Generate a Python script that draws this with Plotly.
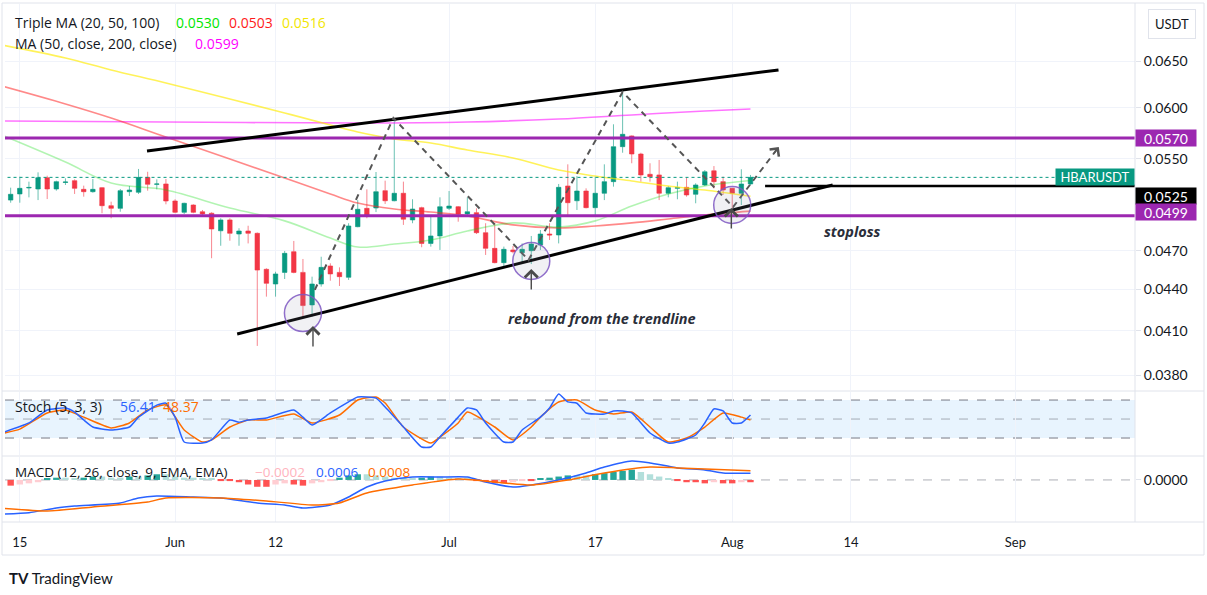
import math
import pandas as pd
import plotly.graph_objects as go

# ---------------- data ----------------
BASE = pd.Timestamp("2023-05-14")

opens = [0.05126, 0.0518, 0.05233, 0.05224, 0.05326, 0.05224, 0.05283, 0.05299, 0.05221, 0.052,
         0.05236, 0.05077, 0.05054, 0.052, 0.05195, 0.05329, 0.05266, 0.05269, 0.05118, 0.0502,
         0.05083, 0.05025, 0.05012, 0.04864, 0.04955, 0.04837, 0.04862, 0.04843, 0.04554, 0.04441,
         0.0453, 0.04693, 0.0453, 0.04285, 0.04441, 0.0458, 0.0453, 0.04492, 0.04898, 0.05054,
         0.05057, 0.05209, 0.0512, 0.05186, 0.04955, 0.0506, 0.0476, 0.04821, 0.05054, 0.05068,
         0.05006, 0.05017, 0.04848, 0.0472, 0.04606, 0.04707, 0.04685, 0.04701, 0.04747, 0.04837,
         0.04829, 0.05251, 0.0512, 0.05206, 0.0506, 0.05186, 0.0529, 0.05616, 0.0572, 0.05546,
         0.05357, 0.05351, 0.05186, 0.0523, 0.05239, 0.05177, 0.0526, 0.05389, 0.0529, 0.0523,
         0.05186, 0.05269]
highs = [0.05236, 0.05335, 0.0529, 0.05375, 0.05344, 0.05299, 0.0532, 0.05311, 0.05254, 0.05314,
         0.0524, 0.05112, 0.05224, 0.05251, 0.05406, 0.0538, 0.05311, 0.05314, 0.05133, 0.05103,
         0.05089, 0.0504, 0.0502, 0.04969, 0.04969, 0.04885, 0.04906, 0.0485, 0.04562, 0.04535,
         0.04699, 0.0478, 0.04635, 0.04497, 0.04653, 0.04601, 0.04569, 0.04927, 0.05126, 0.05221,
         0.05378, 0.05299, 0.05878, 0.0529, 0.05133, 0.05068, 0.04989, 0.0515, 0.05206, 0.05074,
         0.0515, 0.05054, 0.04927, 0.04927, 0.04734, 0.04739, 0.0476, 0.04821, 0.0487, 0.04927,
         0.05269, 0.05449, 0.05341, 0.0523, 0.05335, 0.05449, 0.05835, 0.06158, 0.05725, 0.05558,
         0.05459, 0.0549, 0.05251, 0.0529, 0.05326, 0.05275, 0.05396, 0.05433, 0.05335, 0.05233,
         0.05403, 0.05351]
lows = [0.05103, 0.05103, 0.0515, 0.05126, 0.05135, 0.05209, 0.0526, 0.0518, 0.05156, 0.05191,
        0.05012, 0.04969, 0.05025, 0.05162, 0.0518, 0.05209, 0.05221, 0.05089, 0.05012, 0.05006,
        0.05012, 0.04997, 0.04641, 0.04741, 0.04782, 0.04741, 0.0476, 0.03995, 0.04346, 0.04346,
        0.04479, 0.04523, 0.042, 0.042, 0.04421, 0.04466, 0.04426, 0.04472, 0.04893, 0.04969,
        0.05022, 0.05092, 0.05115, 0.04913, 0.04927, 0.04729, 0.04734, 0.04707, 0.0504, 0.0494,
        0.04983, 0.04837, 0.04667, 0.04601, 0.04574, 0.0468, 0.04595, 0.04595, 0.04707, 0.04788,
        0.0476, 0.04983, 0.0504, 0.05054, 0.04997, 0.05126, 0.05245, 0.05558, 0.05459, 0.0529,
        0.0529, 0.05126, 0.0515, 0.05133, 0.05156, 0.05098, 0.05251, 0.0523, 0.05171, 0.05054,
        0.05083, 0.0526]
closes = [0.05177, 0.0523, 0.05238, 0.05326, 0.05224, 0.0529, 0.05287, 0.0523, 0.052, 0.05221,
          0.05077, 0.05054, 0.05209, 0.05215, 0.05329, 0.05266, 0.05269, 0.05118, 0.0502, 0.05098,
          0.0502, 0.05006, 0.04879, 0.04955, 0.04843, 0.04862, 0.04843, 0.04548, 0.04446, 0.04518,
          0.0468, 0.0453, 0.0428, 0.04441, 0.04569, 0.04518, 0.04497, 0.04904, 0.05046, 0.04997,
          0.052, 0.0512, 0.05186, 0.04961, 0.05048, 0.0476, 0.04821, 0.05068, 0.05074, 0.05006,
          0.05025, 0.04848, 0.0472, 0.04606, 0.04712, 0.04693, 0.04712, 0.04755, 0.04837, 0.04829,
          0.05239, 0.05103, 0.05206, 0.0506, 0.05186, 0.0529, 0.05616, 0.05736, 0.05546, 0.05351,
          0.05335, 0.05186, 0.05236, 0.05236, 0.05171, 0.0526, 0.0538, 0.0529, 0.05215, 0.05186,
          0.05269, 0.05329]

# moving averages (day offsets from BASE)
ma_days = [-1, 6, 11, 17, 24, 30, 35, 38, 42, 46, 50, 55, 60, 64, 68, 72, 76, 81]
ma20 = [0.05729, 0.0547, 0.05278, 0.05215, 0.05057, 0.04947, 0.04804, 0.04731, 0.04755, 0.04788,
        0.04862, 0.0493, 0.04896, 0.04947, 0.05074, 0.0518, 0.05251, 0.0530]
ma50 = [0.0623, 0.06041, 0.05898, 0.0571, 0.05499, 0.05323, 0.0518, 0.051, 0.05048, 0.05022,
        0.04989, 0.04913, 0.04887, 0.04904, 0.0493, 0.04963, 0.04997, 0.0503]
ma100 = [0.06682, 0.06535, 0.06403, 0.06262, 0.06093, 0.05949, 0.05828, 0.05759, 0.0569, 0.05651,
         0.05584, 0.05508, 0.05396, 0.05341, 0.05296, 0.05251, 0.05215, 0.0516]
ma200_days = [-1, 17, 38, 50, 60, 68, 76, 81]
ma200 = [0.05868, 0.05858, 0.05848, 0.05858, 0.05888, 0.05929, 0.05969, 0.0599]

# stochastic
k_days = [-1, 2, 4, 6, 7, 8, 9, 11, 13, 14, 16, 17, 18, 19, 21, 22, 24, 25, 26, 28, 31, 32, 33, 35,
          37, 38, 40, 41, 43, 45, 46, 47, 49, 50, 51, 52, 54, 55, 56, 58, 59, 60, 61, 62, 63, 65,
          66, 67, 68, 70, 72, 73, 75, 76, 77, 78, 79, 80, 81]
k_vals = [28, 43.8, 64.3, 67.5, 61, 48.5, 37.4, 32.7, 37.4, 53, 72, 75, 53, 13.7, 12, 17, 48.5, 45,
          48.5, 51.7, 64.3, 53, 40.6, 59.6, 77, 84.8, 83, 69, 37.4, 5.8, 5.8, 21.6, 53, 67.5, 64.3,
          43.8, 13.7, 13.7, 32.7, 53, 67.5, 89.6, 77, 75, 59.6, 58, 62.7, 62.7, 59.6, 28, 12, 13.7,
          24.8, 43.8, 65.9, 62.7, 43.8, 43.8, 56.41]
d_days = [-1, 1, 4, 6, 8, 11, 13, 15, 17, 19, 21, 22, 24, 26, 28, 31, 33, 36, 38, 40, 41, 43, 46,
          47, 49, 50, 53, 55, 57, 58, 60, 62, 64, 66, 68, 70, 72, 74, 76, 78, 80, 81]
d_vals = [27, 34, 59.6, 64.3, 53, 35.9, 43.8, 64.3, 72.2, 32.7, 13.7, 17, 37.4, 48.5, 48.5, 58, 43.8,
          56.4, 80, 84.8, 75.4, 37.4, 12, 21.6, 43.8, 61.1, 37.4, 17, 37.4, 53, 77, 80, 64.3, 58, 61,
          37.4, 13.7, 20, 37.4, 59.6, 53, 48.37]

# MACD
macd_days = [-1, 2, 5, 7, 12, 14, 16, 20, 23, 27, 30, 32, 35, 37, 39, 41, 44, 47, 50, 52, 55, 57,
             60, 63, 65, 68, 70, 73, 76, 78, 81]
macd_vals = [-0.00300, -0.00288, -0.00246, -0.00229, -0.00202, -0.00158, -0.00141, -0.0015,
             -0.00158, -0.00202, -0.0022, -0.00246, -0.0022, -0.0015, -0.00062, -0.00009, 0.00026,
             0.00026, 0.00026, -0.00018, -0.00062, -0.00044, 0.0, 0.00062, 0.00114, 0.00167,
             0.0015, 0.00106, 0.00088, 0.00062, 0.0006]
sig_days = [-1, 4, 9, 15, 17, 23, 28, 33, 36, 39, 44, 49, 54, 57, 61, 65, 70, 73, 76, 81]
sig_vals = [-0.00248, -0.00273, -0.00238, -0.00194, -0.00158, -0.00158, -0.00185, -0.0022, -0.00202,
            -0.00114, -0.00044, 0.00009, -0.00026, -0.00044, 0.0, 0.00062, 0.00114, 0.00106,
            0.00097, 0.0008]
hist_e4 = [-5, -4, -3, -2, 1, 2, 2, 1, 2, 3, 3, 2, 2, 3, 3, 4, 5, 5, 3, 2, 2, 1, 1, -1, -1, -2, -4,
           -6, -6, -4, -3, -4, -5, -3, -2, -1, 2, 4, 5, 5, 4, 3, 2, 1, 1, 2, 3, 3, 2, 1, 1, -1, -2,
           -3, -3, -2, -1, -1, 1, 2, 3, 4, 4, 4, 5, 6, 7, 8, 9, 7, 5, 3, 1, -1, -2, -2, -3, -2, -3,
           -3, -2, -2]

# drawings
res_level = 0.0570
sup_level = 0.0499
stop_level = 0.0525
last_price = 0.05329
upper_tl_days = [14.93, 84.07]
upper_tl_vals = [0.05574, 0.06403]
lower_tl_days = [24.8, 90.0]
lower_tl_vals = [0.04077, 0.0526]
zig_days = [33.3, 41.9, 56.7, 67.0, 79.1, 84.1]
zig_vals = [0.04396, 0.05898, 0.04627, 0.06166, 0.05066, 0.05613]
circ_days = [32.0, 57.0, 79.0]
circ_vals = [0.04226, 0.0462, 0.05083]
arrow_days = [33.1, 57.0, 78.9]
arrow_vals = [0.04133, 0.04556, 0.05057]

tick_dates = ["2023-05-15", "2023-06-01", "2023-06-12", "2023-07-01", "2023-07-17",
              "2023-08-01", "2023-08-14", "2023-09-01"]
tick_text = ["15", "Jun", "12", "Jul", "17", "Aug", "14", "Sep"]
price_ticks = [0.038, 0.041, 0.044, 0.047, 0.055, 0.060, 0.065]

# ---------------- helpers ----------------
def day(n):
    return BASE + pd.Timedelta(days=n)

def dstr(n):
    return str(day(n))

def xp(px):
    return (px - 5) / 1130.0

def yp(py):
    return (522 - py) / 518.0

FONT = "Lato, 'Open Sans', sans-serif"
LFONT = "'Open Sans', Lato, sans-serif"
TXT = "#131722"
GRID = "#f0f3fa"
BORDER = "#e0e3eb"

dates = [day(i) for i in range(len(opens))]
X0, X1 = day(-0.62), day(123.1)

fig = go.Figure()

# moving averages
fig.add_trace(go.Scatter(x=[day(d) for d in ma200_days], y=ma200, mode="lines",
                         line=dict(color="rgba(255,0,255,0.55)", width=1.6, shape="spline"),
                         xaxis="x", yaxis="y"))
fig.add_trace(go.Scatter(x=[day(d) for d in ma_days], y=ma100, mode="lines",
                         line=dict(color="rgba(255,235,0,0.65)", width=1.6, shape="spline"),
                         xaxis="x", yaxis="y"))
fig.add_trace(go.Scatter(x=[day(d) for d in ma_days], y=ma50, mode="lines",
                         line=dict(color="rgba(255,40,40,0.55)", width=1.6, shape="spline"),
                         xaxis="x", yaxis="y"))
fig.add_trace(go.Scatter(x=[day(d) for d in ma_days], y=ma20, mode="lines",
                         line=dict(color="rgba(0,220,0,0.3)", width=1.6, shape="spline"),
                         xaxis="x", yaxis="y"))

# last price dotted line
fig.add_trace(go.Scatter(x=[day(-1), day(125)], y=[last_price, last_price], mode="lines",
                         line=dict(color="#089981", width=1, dash="dot"), xaxis="x", yaxis="y"))

# candles
fig.add_trace(go.Candlestick(
    x=dates, open=opens, high=highs, low=lows, close=closes,
    increasing=dict(line=dict(color="rgba(8,153,129,0.6)", width=1), fillcolor="#089981"),
    decreasing=dict(line=dict(color="rgba(242,54,69,0.6)", width=1), fillcolor="#f23645"),
    whiskerwidth=0, xaxis="x", yaxis="y"))

# horizontal levels
for lvl in (res_level, sup_level):
    fig.add_trace(go.Scatter(x=[day(-1), day(125)], y=[lvl, lvl], mode="lines",
                             line=dict(color="#9c27b0", width=3), xaxis="x", yaxis="y"))
fig.add_trace(go.Scatter(x=[day(82.6), day(125)], y=[stop_level, stop_level], mode="lines",
                         line=dict(color="#000000", width=2.5), xaxis="x", yaxis="y"))

# trendlines
fig.add_trace(go.Scatter(x=[day(d) for d in upper_tl_days], y=upper_tl_vals, mode="lines",
                         line=dict(color="#000000", width=3), xaxis="x", yaxis="y"))
fig.add_trace(go.Scatter(x=[day(d) for d in lower_tl_days], y=lower_tl_vals, mode="lines",
                         line=dict(color="#000000", width=3), xaxis="x", yaxis="y"))

# zigzag projection
fig.add_trace(go.Scatter(x=[day(d) for d in zig_days], y=zig_vals, mode="lines",
                         line=dict(color="#555555", width=2, dash="6px,5px"), xaxis="x", yaxis="y"))

# circles
fig.add_trace(go.Scatter(x=[day(d) for d in circ_days], y=circ_vals, mode="markers",
                         marker=dict(size=37, color="rgba(150,150,170,0.13)",
                                     line=dict(color="rgba(126,87,194,0.85)", width=1.5)),
                         xaxis="x", yaxis="y"))

# stochastic
fig.add_trace(go.Scatter(x=[day(d) for d in d_days], y=d_vals, mode="lines",
                         line=dict(color="#ff6d00", width=1.5, shape="spline", smoothing=0.5),
                         xaxis="x", yaxis="y2"))
fig.add_trace(go.Scatter(x=[day(d) for d in k_days], y=k_vals, mode="lines",
                         line=dict(color="#2962ff", width=1.5, shape="spline", smoothing=0.5),
                         xaxis="x", yaxis="y2"))

# MACD
hist = [v * 1e-4 for v in hist_e4]
hcol = []
for i, h in enumerate(hist):
    prev = hist[i - 1] if i > 0 else h
    if h >= 0:
        hcol.append("#26a69a" if h > prev else "#b2dfdb")
    else:
        hcol.append("#ffcdd2" if h > prev else "#ff5252")
fig.add_trace(go.Bar(x=dates, y=hist, marker=dict(color=hcol, line=dict(width=0)),
                     width=0.7 * 86400000, xaxis="x", yaxis="y3"))
fig.add_trace(go.Scatter(x=[day(d) for d in macd_days], y=macd_vals, mode="lines",
                         line=dict(color="#2962ff", width=1.5, shape="spline", smoothing=0.6),
                         xaxis="x", yaxis="y3"))
fig.add_trace(go.Scatter(x=[day(d) for d in sig_days], y=sig_vals, mode="lines",
                         line=dict(color="#ff6d00", width=1.5, shape="spline", smoothing=0.6),
                         xaxis="x", yaxis="y3"))

# ---------------- shapes ----------------
shapes = []
shapes.append(dict(type="rect", xref="paper", x0=0, x1=1, yref="y2", y0=20, y1=80,
                   fillcolor="rgba(33,150,243,0.1)", line=dict(width=0), layer="below"))
for v, c in ((80, "#787b86"), (50, "rgba(120,123,134,0.6)"), (20, "#787b86")):
    shapes.append(dict(type="line", xref="paper", x0=0, x1=1, yref="y2", y0=v, y1=v,
                       line=dict(color=c, width=1, dash="dash"), layer="below"))
shapes.append(dict(type="line", xref="paper", x0=0, x1=1, yref="y3", y0=0, y1=0,
                   line=dict(color="rgba(120,123,134,0.6)", width=1, dash="dash"), layer="below"))
shapes.append(dict(type="rect", xref="paper", yref="paper", x0=xp(2), x1=xp(1204),
                   y0=yp(555), y1=yp(3), line=dict(color=BORDER, width=1)))
for py in (391, 456, 522):
    shapes.append(dict(type="line", xref="paper", yref="paper", x0=xp(2), x1=xp(1204),
                       y0=yp(py), y1=yp(py), line=dict(color=BORDER, width=1)))
shapes.append(dict(type="line", xref="paper", yref="paper", x0=1, x1=1, y0=0, y1=yp(3),
                   line=dict(color=BORDER, width=1)))

# ---------------- annotations ----------------
ann = []

def legend(px, py, text, color, size=13.5):
    ann.append(dict(xref="paper", yref="paper", x=xp(px - 2), y=yp(py), text=text,
                    showarrow=False, xanchor="left", yanchor="middle",
                    font=dict(family=LFONT, size=size, color=color)))

legend(15, 22, "Triple MA (20, 50, 100)", TXT, 14)
legend(176, 22, "0.0530", "#00e600", 14)
legend(229, 22, "0.0503", "#ff1a1a", 14)
legend(282, 22, "0.0516", "#f2e600", 14)
legend(15, 44, "MA (50, close, 200, close)", TXT, 14)
legend(195, 44, "0.0599", "#ff00ff", 14)
legend(15, 406, "Stoch (5, 3, 3)", TXT, 14)
legend(120, 406, "56.41", "#2962ff", 14)
legend(163, 406, "48.37", "#ff6d00", 14)
legend(15, 472, "MACD (12, 26, close, 9, EMA, EMA)", TXT)
legend(255, 472, "−0.0002", "#ffb3bd")
legend(316, 472, "0.0006", "#2962ff")
legend(368, 472, "0.0008", "#ff6d00")

def axis_label(price_pos, text, bg):
    ann.append(dict(xref="paper", yref="y", x=1, y=math.log10(price_pos), text=text,
                    showarrow=False, xanchor="left", yanchor="middle", bgcolor=bg,
                    width=58, height=14, borderpad=1, align="center",
                    font=dict(family=FONT, size=14, color="#ffffff")))

axis_label(res_level, "0.0570", "#9c27b0")
axis_label(0.05166, "0.0525", "#000000")
axis_label(0.05022, "0.0499", "#9c27b0")
ann.append(dict(xref="paper", yref="y", x=1, y=math.log10(last_price), text="HBARUSDT",
                showarrow=False, xanchor="right", yanchor="middle", bgcolor="#089981",
                width=76, height=14, borderpad=1, align="center",
                font=dict(family=FONT, size=13, color="#ffffff")))
ann.append(dict(xref="paper", yref="paper", x=xp(1172), y=yp(24), text="USDT", showarrow=False,
                xanchor="center", yanchor="middle", bordercolor=BORDER, borderwidth=1,
                borderpad=6, bgcolor="#ffffff", font=dict(family=FONT, size=13, color=TXT)))

ann.append(dict(xref="x", yref="y", x=dstr(92.2), y=math.log10(0.04862),
                text="<b><i>stoploss</i></b>", showarrow=False,
                font=dict(family=LFONT, size=14.5, color="#2a2e39")))
ann.append(dict(xref="x", yref="y", x=dstr(64.7), y=math.log10(0.0419),
                text="<b><i>rebound from the trendline</i></b>", showarrow=False,
                font=dict(family=LFONT, size=14.5, color="#2a2e39")))

for d, v in zip(arrow_days, arrow_vals):
    ann.append(dict(xref="x", yref="y", x=dstr(d), y=math.log10(v), text="", showarrow=True,
                    ax=0, ay=22, arrowhead=4, arrowsize=1.8, arrowwidth=1.4,
                    arrowcolor="#4a4a4a"))
ann.append(dict(xref="x", yref="y", x=dstr(zig_days[-1]), y=math.log10(zig_vals[-1]), text="",
                showarrow=True, ax=-6, ay=8, arrowhead=4, arrowsize=1.6, arrowwidth=1.4,
                arrowcolor="#555555"))

ann.append(dict(xref="paper", yref="paper", x=xp(7), y=yp(578),
                text="<b>TV</b> TradingView", showarrow=False, xanchor="left", yanchor="middle",
                font=dict(family=FONT, size=15, color=TXT)))

fig.update_layout(
    width=1207, height=595,
    margin=dict(l=5, r=72, t=4, b=73),
    paper_bgcolor="#ffffff", plot_bgcolor="#ffffff",
    showlegend=False, bargap=0.3,
    font=dict(family=FONT, size=13, color=TXT),
    shapes=shapes, annotations=ann,
    xaxis=dict(type="date", domain=[0, 1], anchor="y3", range=[X0, X1],
               tickvals=tick_dates, ticktext=tick_text, showgrid=True, gridcolor=GRID,
               ticks="outside", ticklen=8, tickcolor="rgba(0,0,0,0)", showline=False,
               zeroline=False, rangeslider=dict(visible=False),
               tickfont=dict(family=FONT, size=13, color=TXT)),
    yaxis=dict(type="log", domain=[yp(390), 1], anchor="x", side="right",
               range=[math.log10(0.03705), math.log10(0.07167)],
               tickvals=price_ticks, ticktext=["%.4f" % v for v in price_ticks],
               showgrid=True, gridcolor=GRID, ticks="outside", ticklen=5, tickcolor=BORDER,
               zeroline=False, tickfont=dict(family=FONT, size=14, color=TXT)),
    yaxis2=dict(domain=[yp(455), yp(392)], anchor="x", side="right", range=[-6.8, 92.7],
                showticklabels=False, showgrid=False, zeroline=False, ticks=""),
    yaxis3=dict(domain=[0, yp(457)], anchor="x", side="right", range=[-0.0037, 0.00202],
                tickvals=[0], ticktext=["0.0000"], showgrid=False, zeroline=False,
                ticks="outside", ticklen=5, tickcolor=BORDER,
                tickfont=dict(family=FONT, size=14, color=TXT)),
)

fig.write_html("out.html", config={"displayModeBar": False},
               post_script="document.body.style.margin='0px';document.body.style.padding='0px';")
